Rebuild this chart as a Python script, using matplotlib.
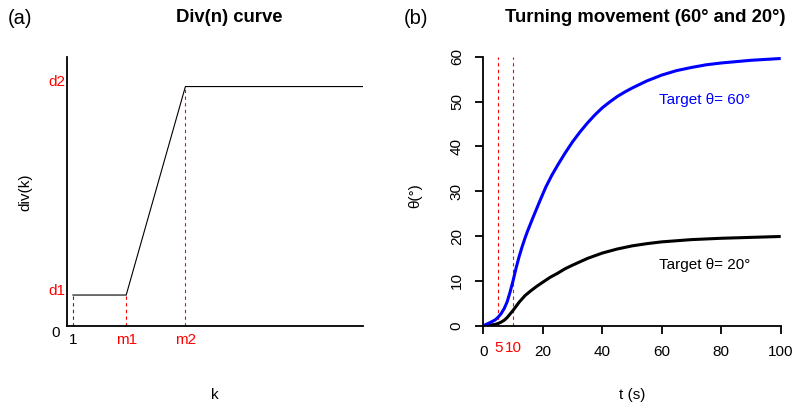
import matplotlib
matplotlib.use("Agg")
import matplotlib.pyplot as plt
import numpy as np

plt.rcParams['font.family'] = ['Liberation Sans', 'DejaVu Sans']

# ---- Panel (a): Div(n) curve ----
k_points = [1, 10, 20, 50]
d1, d2 = 0.114, 0.889
div_points = [d1, d1, d2, d2]
k_ticks = [1, 10, 20]
k_tick_labels = ["1", "m1", "m2"]
k_tick_colors = ["black", "red", "red"]

# ---- Panel (b): Turning movement ----
t_blue = [0, 2, 4, 5, 6, 7, 8, 9, 10, 11, 12, 13, 14, 15, 17, 19, 21, 23, 25,
          27.5, 30, 32.5, 35, 37.5, 40, 42.5, 45, 47.5, 50, 55, 60, 65, 70,
          75, 80, 85, 90, 95, 100]
theta_60 = [0, 0.6, 1.3, 1.9, 2.7, 3.8, 5.3, 7.5, 10.0, 12.8, 15.3, 17.5, 19.5,
            21.3, 24.6, 27.8, 30.9, 33.5, 35.8, 38.5, 41.0, 43.2, 45.2, 47.0,
            48.6, 49.9, 51.1, 52.1, 53.0, 54.6, 55.9, 56.9, 57.6, 58.2, 58.6,
            58.9, 59.2, 59.4, 59.6]
t_black = [0, 2, 4, 5, 6, 7, 8, 9, 10, 12, 14, 16, 18, 20, 22.5, 25, 27.5, 30,
           35, 40, 45, 50, 55, 60, 70, 80, 90, 100]
theta_20 = [0, 0.1, 0.3, 0.5, 0.8, 1.2, 1.8, 2.6, 3.4, 5.2, 6.7, 7.8, 8.8, 9.7,
            10.8, 11.7, 12.7, 13.5, 15.0, 16.2, 17.1, 17.8, 18.3, 18.7, 19.2,
            19.5, 19.7, 19.9]
t_ticks = [0, 20, 40, 60, 80, 100]
theta_ticks = [0, 10, 20, 30, 40, 50, 60]
t_marks = [5, 10]
t_mark_labels = ["5", "10"]

W, H = 795, 404
fig = plt.figure(figsize=(W / 100, H / 100), dpi=100)

def frac(x0, y0, x1, y1):
    return [x0 / W, 1 - y1 / H, (x1 - x0) / W, (y1 - y0) / H]

FS = 11
SPW = 1.3

# Panel (a)
axa = fig.add_axes(frac(67, 56.7, 363, 325.7))
axa.plot(k_points, div_points, color="black", lw=0.8)
axa.plot([k_points[0], k_points[0]], [0, d1], color="#333333", lw=0.8, dashes=(3, 3))
axa.plot([k_points[1], k_points[1]], [0, d1], color="red", lw=0.8, dashes=(3, 3))
axa.plot([k_points[2], k_points[2]], [0, d2], color="red", lw=0.8, dashes=(3, 3))
axa.set_xlim(0, 50)
axa.set_ylim(0, 1)
for s in ["top", "right"]:
    axa.spines[s].set_visible(False)
for s in ["left", "bottom"]:
    axa.spines[s].set_linewidth(SPW)
axa.set_xticks(k_ticks)
axa.set_xticklabels(k_tick_labels, fontsize=FS)
for lbl, c in zip(axa.get_xticklabels(), k_tick_colors):
    lbl.set_color(c)
axa.tick_params(axis="x", length=0, pad=5)
axa.set_yticks([])
axa.text(-2.0, 0, "0", transform=axa.transData, ha="center", va="top",
         fontsize=FS, clip_on=False)
for val, name in [(d1, "d1"), (d2, "d2")]:
    axa.annotate(name, xy=(0, val), xycoords=("axes fraction", "data"),
                 xytext=(-1, 3), textcoords="offset points", ha="right",
                 va="center", color="red", fontsize=FS)
fig.text(215 / W, 1 - 395 / H, "k", ha="center", va="center", fontsize=FS)
fig.text(25 / W, 1 - 192 / H, "div(k)", ha="center", va="center",
         rotation=90, fontsize=FS)
fig.text(229.5 / W, 1 - 17.5 / H, "Div(n) curve", ha="center", va="center",
         fontsize=13.3, fontweight="bold")
fig.text(8 / W, 1 - 19 / H, "(a)", ha="left", va="center", fontsize=14.5)

# Panel (b)
axb = fig.add_axes(frac(483.3, 56.7, 780.7, 325.7))
for tm in t_marks:
    axb.plot([tm, tm], [0, 60], color="red", lw=0.8, dashes=(3, 3))
axb.plot(t_black, theta_20, color="black", lw=2.2, solid_capstyle="butt",
         solid_joinstyle="round")
axb.plot(t_blue, theta_60, color="blue", lw=2.2, solid_capstyle="butt",
         solid_joinstyle="round")
axb.set_xlim(0, 100)
axb.set_ylim(0, 60)
for s in ["top", "right"]:
    axb.spines[s].set_visible(False)
for s in ["left", "bottom"]:
    axb.spines[s].set_linewidth(SPW)
axb.set_xticks(t_ticks)
axb.set_yticks(theta_ticks)
axb.tick_params(axis="both", direction="out", length=6, width=SPW,
                labelsize=FS)
axb.tick_params(axis="x", pad=8)
axb.tick_params(axis="y", pad=8)
for lbl in axb.get_yticklabels():
    lbl.set_rotation(90)
    lbl.set_va("center")
for tm, tl in zip(t_marks, t_mark_labels):
    axb.annotate(tl, xy=(tm, 0), xycoords="data", xytext=(0, -16),
                 textcoords="offset points", ha="center", va="center",
                 color="red", fontsize=FS, annotation_clip=False)
axb.text(59.1, 50.3, "Target θ= 60°", color="blue", fontsize=FS,
         ha="left", va="center")
axb.text(59.1, 13.5, "Target θ= 20°", color="black", fontsize=FS,
         ha="left", va="center")
fig.text(631.7 / W, 1 - 395 / H, "t (s)", ha="center", va="center", fontsize=FS)
fig.text(415 / W, 1 - 196 / H, "θ(°)", ha="center", va="center",
         rotation=90, fontsize=FS)
fig.text(645.7 / W, 1 - 17.5 / H, "Turning movement (60° and 20°)",
         ha="center", va="center", fontsize=13.3, fontweight="bold")
fig.text(404 / W, 1 - 19 / H, "(b)", ha="left", va="center", fontsize=14.5)

fig.savefig("out.png", dpi=100)
